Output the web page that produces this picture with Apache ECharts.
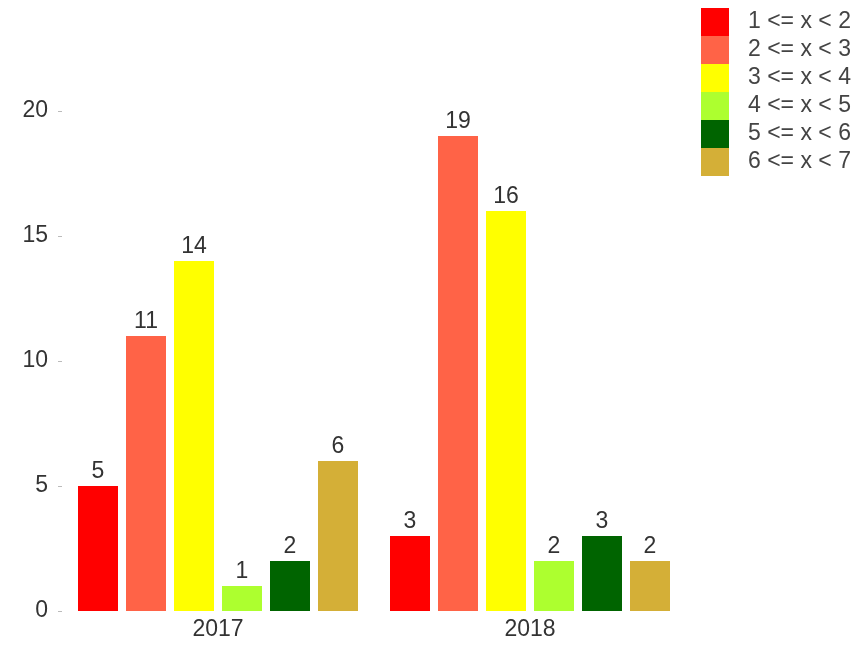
<!DOCTYPE html>
<html>
<head>
<meta charset="utf-8">
<script src="https://cdn.jsdelivr.net/npm/echarts@6/dist/echarts.min.js"></script>
<style>
  html, body { margin: 0; padding: 0; background: #fff; }
  #chart { width: 856px; height: 645px; }
</style>
</head>
<body>
<div id="chart"></div>
<script>
var years = ["2017", "2018"];
var bins = ["1 <= x < 2", "2 <= x < 3", "3 <= x < 4", "4 <= x < 5", "5 <= x < 6", "6 <= x < 7"];
var binColors = ["#ff0000", "#ff6347", "#ffff00", "#adff2f", "#006400", "#d4af37"];
var counts = [
  [5, 3],
  [11, 19],
  [14, 16],
  [1, 2],
  [2, 3],
  [6, 2]
];
var yTicks = [0, 5, 10, 15, 20];

var chartDom = document.getElementById("chart");
var myChart = echarts.init(chartDom);
var option;

var series = bins.map(function (name, i) {
  return {
    name: name,
    type: "bar",
    barWidth: 40,
    barGap: "20%",
    barCategoryGap: "10.3%",
    itemStyle: { color: binColors[i] },
    label: {
      show: true,
      position: "top",
      distance: 3,
      color: "#333",
      fontSize: 23,
    },
    data: counts[i],
  };
});

option = {
  animation: false,
  textStyle: { fontFamily: "Liberation Sans, Arial, sans-serif" },
  color: binColors,
  grid: {
    left: 62,
    right: 170,
    top: 111,
    bottom: 34,
  },
  legend: {
    orient: "vertical",
    left: 701,
    top: 8,
    padding: 0,
    itemWidth: 28,
    itemHeight: 28,
    itemGap: 0,
    icon: "rect",
    textStyle: {
      fontSize: 23,
      color: "#444",
      padding: [0, 0, 0, 14],
    },
    data: bins,
  },
  xAxis: {
    type: "category",
    data: years,
    axisLine: { show: false },
    axisTick: { show: false },
    axisLabel: {
      fontSize: 23,
      color: "#333",
      margin: 7,
    },
  },
  yAxis: {
    type: "value",
    min: yTicks[0],
    max: yTicks[yTicks.length - 1],
    interval: 5,
    splitLine: { show: false },
    axisLine: { show: false },
    axisTick: {
      show: true,
      length: 4,
      lineStyle: { color: "#bbb" },
    },
    axisLabel: {
      fontSize: 23,
      color: "#333",
      margin: 14,
    },
  },
  series: series,
};

option && myChart.setOption(option);
</script>
</body>
</html>
